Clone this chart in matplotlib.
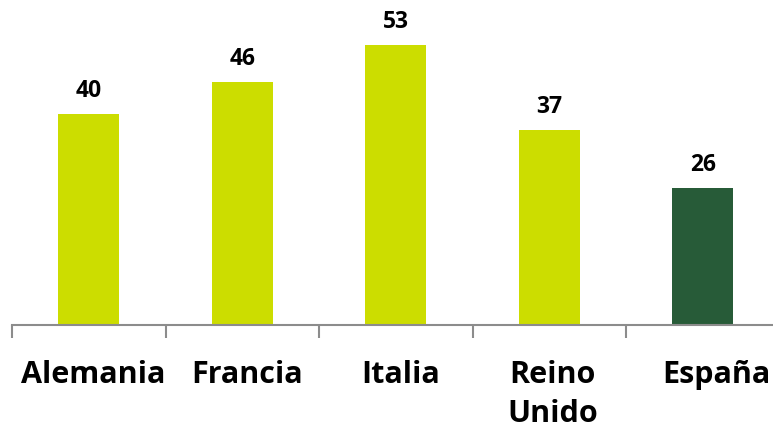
import matplotlib
matplotlib.use("Agg")
import matplotlib.pyplot as plt
import matplotlib.transforms as mtransforms
from matplotlib.ticker import FixedLocator

categories = ["Alemania", "Francia", "Italia", "Reino\nUnido", "España"]
values = [40, 46, 53, 37, 26]
colors = ["#CCDD00", "#CCDD00", "#CCDD00", "#CCDD00", "#275B38"]

W, H = 773, 432
fig = plt.figure(figsize=(W / 100, H / 100), dpi=100)
slot = 153.5
left_px, axis_y = 12, 325
ymax = 60
px_per_unit = 211 / 40
ax_h = ymax * px_per_unit
ax = fig.add_axes([left_px / W, (H - axis_y) / H, 5 * slot / W, ax_h / H])

x = list(range(len(categories)))
bars = ax.bar(x, values, width=0.4, color=colors)
for b, v in zip(bars, values):
    ax.annotate(str(v), (b.get_x() + b.get_width() / 2, v), xytext=(0, 8),
                textcoords="offset points", ha="center", va="bottom",
                fontsize=16.5, fontweight="bold", family="Open Sans")

ax.set_xlim(-0.5, len(categories) - 0.5)
ax.set_ylim(0, ymax)
for s in ["top", "right", "left"]:
    ax.spines[s].set_visible(False)
ax.spines["bottom"].set_color("#8C8C8C")
ax.spines["bottom"].set_linewidth(1.5)
ax.set_yticks([])
ax.set_xticks(x)
ax.set_xticklabels(categories, fontsize=22, fontweight="bold", family="Open Sans",
                   va="top", linespacing=1.4)
ax.tick_params(axis="x", which="major", length=0, pad=25)
ax.xaxis.set_minor_locator(FixedLocator([i - 0.5 for i in range(len(categories) + 1)]))
ax.tick_params(axis="x", which="minor", length=9, width=1.5, color="#8C8C8C")

shifts_px = [4, 5, 5, 3, 14]
for lbl, dx in zip(ax.get_xticklabels(), shifts_px):
    lbl.set_transform(lbl.get_transform() +
                      mtransforms.ScaledTranslation(dx / 100, 0, fig.dpi_scale_trans))

fig.savefig("out.png", dpi=100)
